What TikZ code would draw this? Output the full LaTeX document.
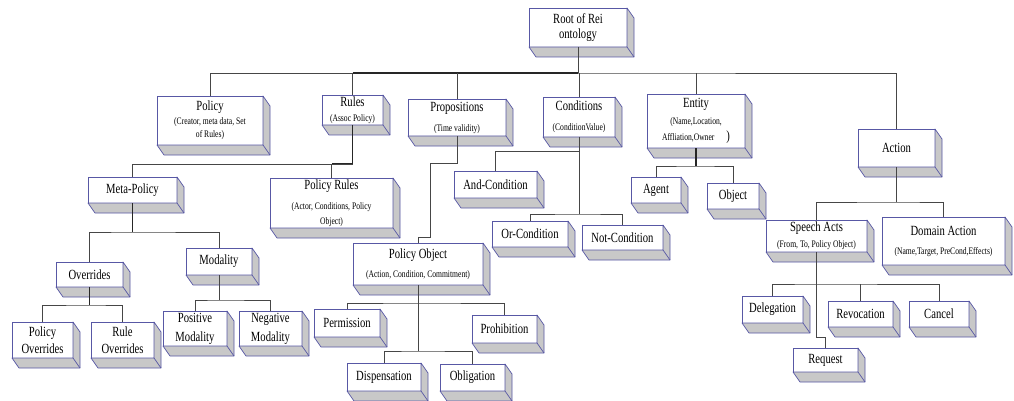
\documentclass[tikz,border=0pt]{standalone}
\usepackage{fontspec}
\setmainfont{Liberation Serif}[FakeStretch=0.76]
\definecolor{bord}{RGB}{88,88,165}
\definecolor{shd}{RGB}{200,200,200}
\definecolor{lnc}{RGB}{70,70,70}
\newcommand\smf{\fontsize{10}{8}\selectfont}
\tikzset{
  fr/.style={draw=bord, fill=white, line width=0.7pt, inner sep=1pt, outer sep=0pt,
    align=center, font={\fontsize{14}{8}\selectfont\lineskiplimit=-30pt\relax}},
  sd/.style={draw=bord, fill=shd, line width=0.7pt, line join=round},
  cn/.style={draw=lnc, line width=0.8pt},
  cnd/.style={draw=black!85, line width=1.1pt}
}
% name, x1, y1, x2, y2, text
\newcommand\bx[6]{%
  \node[fr, minimum width={#4-#2}, minimum height={#5-#3}] (#1) at ({(#2+#4)/2},{(#3+#5)/2}) {#6};
  \filldraw[sd] (#1.north east) -- ++(7,10) -- ++(0,{#5-#3}) -- ([shift={(7,10)}]#1.south west)
     -- (#1.south west) -- (#1.south east) -- cycle;
  \draw[sd, fill=none] (#1.south east) -- ++(7,10);
}
\begin{document}
\begin{tikzpicture}[x=1pt, y=-1pt]
\useasboundingbox[fill=white] (0,0) rectangle (1014,401);
% top level
\bx{root}{529}{8}{627}{47}{Root of Rei\\[7pt]ontology}
\bx{pol}{157}{96}{263}{145}{Policy\\[6pt]\smf (Creator, meta data, Set\\[5pt]\smf of Rules)}
\bx{rul}{322}{95}{383}{125}{Rules\\[7pt]\smf (Assoc Policy)}
\bx{prop}{408}{99}{506}{136}{Propositions\\[12pt]\smf (Time validity)}
\bx{cond}{543}{97}{615}{137}{Conditions\\[12pt]\smf (ConditionValue)}
\bx{ent}{647}{94}{745}{148}{Entity\\[9pt]\smf (Name,Location,\\[8pt]\smf Affliation,Owner\hspace{1.2em}{\fontsize{14}{8}\selectfont )}}
\bx{act}{858}{129}{935}{167}{Action}
% policy side
\bx{meta}{88}{177}{177}{203}{Meta-Policy}
\bx{prl}{270}{178}{393}{228}{Policy Rules\\[12pt]\smf (Actor, Conditions, Policy\\[7pt]\smf Object)}
\bx{ovr}{56}{262}{123}{287}{Overrides}
\bx{mod}{186}{248}{252}{275}{Modality}
\bx{povr}{12}{322}{73}{358}{Policy\\[9pt]Overrides}
\bx{rovr}{91}{322}{154}{358}{Rule\\[9pt]Overrides}
\bx{posm}{163}{311}{227}{346}{Positive\\[11pt]Modality}
\bx{negm}{239}{311}{302}{346}{Negative\\[11pt]Modality}
% policy object
\bx{pobj}{353}{243}{483}{285}{Policy Object\\[11pt]\smf (Action, Condition, Commitment)}
\bx{perm}{314}{309}{380}{337}{Permission}
\bx{proh}{472}{315}{537}{343}{Prohibition}
\bx{disp}{347}{363}{421}{391}{Dispensation}
\bx{obl}{440}{364}{505}{391}{Obligation}
% conditions
\bx{andc}{454}{171}{537}{198}{And-Condition}
\bx{orc}{492}{221}{568}{247}{Or-Condition}
\bx{notc}{582}{225}{663}{250}{Not-Condition}
% entity
\bx{agent}{631}{177}{681}{203}{Agent}
\bx{obj}{707}{183}{759}{209}{Object}
% action
\bx{spa}{766}{220}{867}{252}{Speech Acts\\[8pt]\smf (From, To, Policy Object)}
\bx{dom}{882}{217}{1005}{265}{Domain Action\\[11pt]\smf (Name,Target, PreCond,Effects)}
\bx{deleg}{742}{296}{803}{323}{Delegation}
\bx{revo}{828}{301}{893}{327}{Revocation}
\bx{canc}{909}{301}{969}{327}{Cancel}
\bx{req}{793}{348}{858}{372}{Request}
% junctions
\coordinate (b0) at (578,73);
\coordinate (r1) at (352.5,164);
\coordinate (m1) at (132.5,232);
\coordinate (o1) at (89.5,305);
\coordinate (d1) at (219,300);
\coordinate (p1) at (457,163);
\coordinate (p2) at (430,163);
\coordinate (p3) at (430,237);
\coordinate (p4) at (418,237);
\coordinate (q1) at (418,303);
\coordinate (q2) at (418,351);
\coordinate (c1) at (579,151);
\coordinate (c2) at (579,214);
\coordinate (e1) at (696,166);
\coordinate (a1) at (896.5,202);
\coordinate (s1) at (816.5,284);
\coordinate (s2) at (816.5,337);
\coordinate (s3) at (825.5,337);
% connectors
\draw[cn] (root.south) -- (b0);
\draw[cn] (pol.north) |- (b0) -| (act.north);
\draw[cnd] (rul.north |- b0) -- (b0);
\draw[cn] (rul.north) -- (rul.north |- b0);
\draw[cn] (prop.north) -- (prop.north |- b0);
\draw[cn] (cond.north) -- (cond.north |- b0);
\draw[cn] (ent.north) -- (ent.north |- b0);
\draw[cnd] (rul.south) -- (r1) -- (prl.north |- r1);
\draw[cn] (prl.north |- r1) -| (meta.north);
\draw[cn] (r1) -| (prl.north);
\draw[cnd] (meta.south) -- (m1);
\draw[cn] (ovr.north) |- (m1) -| (mod.north);
\draw[cnd] (ovr.south) -- (o1);
\draw[cn] (povr.north) |- (o1) -| (rovr.north);
\draw[cn] (mod.south) -- (d1);
\draw[cn] (posm.north) |- (d1) -| (negm.north);
\draw[cn] (prop.south) -- (p1) -- (p2) -- (p3) -- (p4) -- (pobj.north);
\draw[cn] (pobj.south) -- (q1);
\draw[cn] (perm.north) |- (q1) -| (proh.north);
\draw[cn] (q1) -- (q2);
\draw[cn] (disp.north) |- (q2) -| (obl.north);
\draw[cn] (cond.south) -- (c1);
\draw[cn] (andc.north) |- (c1);
\draw[cn] (c1) -- (c2);
\draw[cn] (orc.north) |- (c2) -| (notc.north);
\draw[cnd] (ent.south) -- (e1);
\draw[cn] (agent.north) |- (e1) -| (obj.north);
\draw[cn] (act.south) -- (a1);
\draw[cn] (spa.north) |- (a1) -| (dom.north);
\draw[cn] (spa.south) -- (s1);
\draw[cn] (deleg.north) |- (s1) -| (canc.north);
\draw[cn] (revo.north) -- (revo.north |- s1);
\draw[cn] (s1) -- (s2) -- (s3) -- (req.north);
\end{tikzpicture}
\end{document}
